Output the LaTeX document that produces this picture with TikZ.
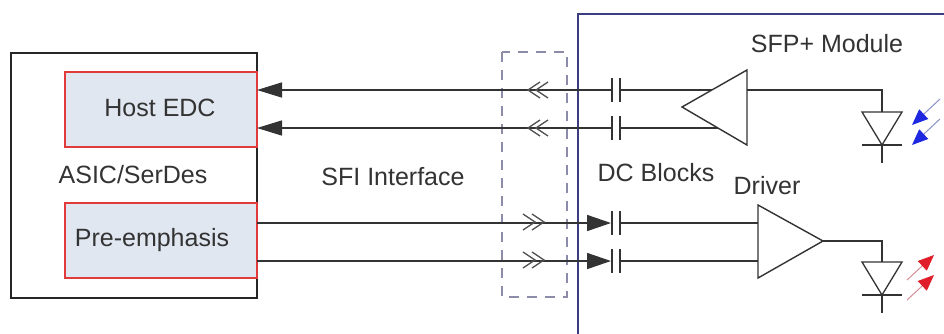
\documentclass[tikz,border=0pt]{standalone}
\usepackage{fontspec}
\setmainfont{Liberation Sans}
\usetikzlibrary{arrows.meta,calc}
\definecolor{wire}{HTML}{333333}
\definecolor{boxred}{HTML}{E03A3A}
\definecolor{boxfill}{HTML}{E1E7F1}
\definecolor{navy}{HTML}{3C3C80}
\definecolor{dashc}{HTML}{8C8CA8}
\definecolor{txt}{HTML}{333333}
\definecolor{ledblue}{HTML}{1E28E0}
\definecolor{ledred}{HTML}{E01E2A}
\definecolor{bluestem}{HTML}{8C92C8}
\definecolor{redstem}{HTML}{D89098}
\tikzset{
  wireline/.style={draw=wire, line width=1.5pt},
  outerbox/.style={draw=black!85, line width=2pt},
  innerbox/.style={draw=boxred, fill=boxfill, line width=2pt},
  lbl/.style={text=txt, font=\fontsize{25}{30}\selectfont, inner sep=0pt},
  plate/.style={draw=wire, line width=1.6pt},
  chev/.style={draw=wire!85, line width=1.3pt},
  amp/.style={draw=wire, line width=1.4pt, fill=white},
  headl/.style={-{Triangle[length=25pt,width=15pt]}},
  bluelight/.style={draw=bluestem, line width=1pt, -{Triangle[length=16pt,width=13pt,color=ledblue]}},
  redlight/.style={draw=redstem, line width=1pt, -{Triangle[length=16pt,width=13pt,color=ledred]}},
}
\begin{document}
\begin{tikzpicture}[x=1pt,y=-1pt]
\useasboundingbox (0,0) rectangle (944,333);
\clip (0,0) rectangle (944,333);
\fill[white] (0,0) rectangle (944,333);

% module box
\draw[draw=navy, line width=2pt] (578,14) rectangle (960,350);
\node[lbl] (sfp) at (827,44) {SFP+ Module};

% dashed SFI box
\draw[draw=dashc, line width=1.6pt, dash pattern=on 10pt off 8pt] (502,52) rectangle (567,297);

% ASIC box
\node[outerbox, minimum width=246pt, minimum height=245pt, inner sep=0pt] (asic) at (134,175.5) {};
\node[innerbox, minimum width=192pt, minimum height=75pt, inner sep=0pt] (edc) at (161,109.5) {};
\node[innerbox, minimum width=192pt, minimum height=75pt, inner sep=0pt] (pre) at (161,240.5) {};
\node[lbl] (edct) at (160,108) {Host EDC};
\node[lbl] (pret) at (152,240) {Pre-emphasis};
\node[lbl] (asict) at (133,175) {ASIC/SerDes};
\node[lbl] (sfi) at (393,177) {SFI Interface};
\node[lbl] (dcb) at (656,173) {DC Blocks};
\node[lbl] (drv) at (767,186) {Driver};

% coordinates
\coordinate (e1) at (257,90);
\coordinate (e2) at (257,128);
\coordinate (p1) at (257,223);
\coordinate (p2) at (257,261);
\coordinate (ca1) at (612,90);  \coordinate (cb1) at (620,90);
\coordinate (ca2) at (612,128); \coordinate (cb2) at (620,128);
\coordinate (ca3) at (612,223); \coordinate (cb3) at (620,223);
\coordinate (ca4) at (612,261); \coordinate (cb4) at (620,261);
% receiver amp
\coordinate (rtip) at (682,107);
\coordinate (rt) at (747,70);
\coordinate (rb) at (747,145);
\coordinate (rin1) at (712,90);
\coordinate (rin2) at (718,128);
\coordinate (rout) at (747,90);
% driver amp
\coordinate (dt) at (758,205);
\coordinate (db) at (758,278);
\coordinate (dtip) at (823,241);
\coordinate (din1) at (758,223);
\coordinate (din2) at (758,261);

% receive lines
\draw[wireline, headl] (ca1) -- (e1);
\draw[wireline, headl] (ca2) -- (e2);
\draw[wireline] (cb1) -- (rin1);
\draw[wireline] (cb2) -- (rin2);
\draw[wireline, line width=2.4pt] (528,90) -- (560,90);
\draw[wireline, line width=2.4pt] (528,128) -- (560,128);
% transmit lines
\draw[wireline, -{Triangle[length=24pt,width=16pt]}] (p1) -- (611,223);
\draw[wireline, -{Triangle[length=24pt,width=16pt]}] (p2) -- (611,261);
\draw[wireline] (cb3) -- (din1);
\draw[wireline] (cb4) -- (din2);

% capacitor plates
\foreach \cc in {ca1,cb1,ca2,cb2,ca3,cb3,ca4,cb4} {\draw[plate] ($(\cc)+(0,-12)$) -- ($(\cc)+(0,12)$);}

% chevrons
\foreach \y in {90,128} {
  \draw[chev] (540,\y-8) -- (528,\y) -- (540,\y+8);
  \draw[chev] (548,\y-8) -- (536,\y) -- (548,\y+8);
}
\foreach \y in {222,260} {
  \draw[chev] (523,\y-8) -- (535,\y) -- (523,\y+8);
  \draw[chev] (532,\y-8) -- (544,\y) -- (532,\y+8);
}

% amplifiers
\draw[amp] (rtip) -- (rt) -- (rb) -- cycle;
\draw[amp] (dt) -- (db) -- (dtip) -- cycle;

% photodiode (receiver)
\coordinate (d1tl) at (862,112); \coordinate (d1tr) at (902,112);
\coordinate (d1k) at (882,145); \coordinate (d1a) at (882,112);
\draw[wireline] (rout) -- (882,90) -- (d1a);
\draw[wireline, line width=1.3pt] (d1tl) -- (d1tr) -- (d1k) -- cycle;
\draw[wireline, line width=1.3pt] (862,145) -- (902,145);
\draw[wireline, line width=1.3pt] (d1k) -- (882,163);
\draw[bluelight] (940,99) -- (912,125);
\draw[bluelight] (940,119) -- (912,145);

% laser diode (driver)
\coordinate (d2tl) at (862,262); \coordinate (d2tr) at (902,262);
\coordinate (d2k) at (882,295); \coordinate (d2a) at (882,262);
\draw[wireline] (dtip) -- (882,241) -- (d2a);
\draw[wireline, line width=1.3pt] (d2tl) -- (d2tr) -- (d2k) -- cycle;
\draw[wireline, line width=1.3pt] (862,295) -- (902,295);
\draw[wireline, line width=1.3pt] (d2k) -- (882,313);
\draw[redlight] (907,280) -- (934,255);
\draw[redlight] (907,300) -- (934,275);
\end{tikzpicture}
\end{document}
